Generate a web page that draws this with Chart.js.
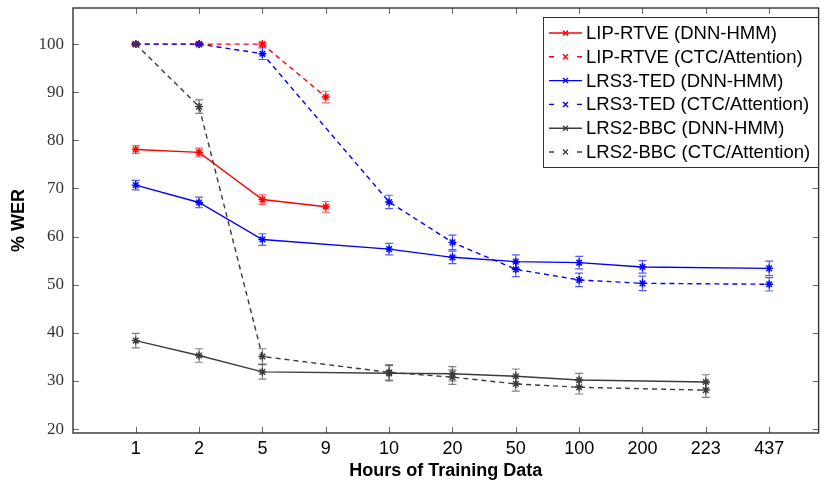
<!DOCTYPE html>
<html>
<head>
<meta charset="utf-8">
<script src="https://cdn.jsdelivr.net/npm/chart.js@4"></script>
<style>
  html, body { margin: 0; padding: 0; background: #fff; }
  #wrap { width: 824px; height: 483px; position: relative; }
</style>
</head>
<body>
<div id="wrap"><canvas id="werChart" width="824" height="483"></canvas></div>
<script>
// x categories (equally spaced)
const HOURS = ['1', '2', '5', '9', '10', '20', '50', '100', '200', '223', '437']
const Y_TICKS = [20, 30, 40, 50, 60, 70, 80, 90, 100]

const LIP_DNN = [78.1, 77.5, 67.7, 66.2, null, null, null, null, null, null, null]
const LIP_DNN_ERR = [0.8, 0.9, 1.0, 1.1, null, null, null, null, null, null, null]
const LIP_CTC = [100, 100, 100, 89.0, null, null, null, null, null, null, null]
const LIP_CTC_ERR = [0.3, 0.3, 0.3, 1.2, null, null, null, null, null, null, null]

const LRS3_DNN = [70.7, 67.1, 59.4, null, 57.4, 55.7, 54.8, 54.6, 53.7, null, 53.4]
const LRS3_DNN_ERR = [1.0, 1.1, 1.2, null, 1.2, 1.3, 1.4, 1.3, 1.3, null, 1.5]
const LRS3_CTC = [100, 100, 98.0, null, 67.2, 58.8, 53.2, 51.0, 50.3, null, 50.1]
const LRS3_CTC_ERR = [0.2, 0.2, 1.2, null, 1.4, 1.5, 1.5, 1.4, 1.5, null, 1.4]

const LRS2_DNN = [38.4, 35.3, 31.9, null, 31.6, 31.5, 31.0, 30.2, null, 29.8, null]
const LRS2_DNN_ERR = [1.5, 1.4, 1.5, null, 1.6, 1.5, 1.5, 1.4, null, 1.5, null]
const LRS2_CTC = [100, 87.0, 35.1, null, 31.8, 30.8, 29.4, 28.7, null, 28.1, null]
const LRS2_CTC_ERR = [0.2, 1.4, 1.6, null, 1.6, 1.5, 1.5, 1.4, null, 1.5, null]

const RED = '#ff0000'
const BLUE = '#0000ff'
const GREY = '#3c3c3c'

function toPoints(values, errs) {
    const pts = []
    values.forEach((v, i) => {
        if (v !== null) pts.push({ x: i, y: v, err: errs[i] })
    })
    return pts
}

let setCount = 0
function makeSet(label, values, errs, color, barColor, dashed) {
    setCount++
    return {
        label: label,
        data: toPoints(values, errs),
        order: -setCount, // later series on top, like pgfplots
        borderColor: color,
        backgroundColor: color,
        barColor: barColor,
        borderWidth: 1.4,
        borderDash: dashed ? [5, 4] : [],
        pointStyle: 'star',
        pointRadius: 4,
        pointBorderWidth: 1.4,
        pointBorderColor: color,
        tension: 0,
        fill: false
    }
}

const datasets = [
    makeSet('LIP-RTVE (DNN-HMM)', LIP_DNN, LIP_DNN_ERR, RED, 'rgba(255,0,0,0.6)', false),
    makeSet('LIP-RTVE (CTC/Attention)', LIP_CTC, LIP_CTC_ERR, RED, 'rgba(255,0,0,0.6)', true),
    makeSet('LRS3-TED (DNN-HMM)', LRS3_DNN, LRS3_DNN_ERR, BLUE, 'rgba(0,0,255,0.65)', false),
    makeSet('LRS3-TED (CTC/Attention)', LRS3_CTC, LRS3_CTC_ERR, BLUE, 'rgba(0,0,255,0.65)', true),
    makeSet('LRS2-BBC (DNN-HMM)', LRS2_DNN, LRS2_DNN_ERR, GREY, 'rgba(60,60,60,0.65)', false),
    makeSet('LRS2-BBC (CTC/Attention)', LRS2_CTC, LRS2_CTC_ERR, GREY, 'rgba(60,60,60,0.65)', true)
]

// error bars, drawn through the scales
const errorBars = {
    id: 'errorBars',
    afterDatasetsDraw(chart) {
        const ctx = chart.ctx
        const xs = chart.scales.x
        const ys = chart.scales.y
        ctx.save()
        chart.data.datasets.forEach(ds => {
            ctx.strokeStyle = ds.barColor
            ctx.lineWidth = 1.2
            ctx.setLineDash([])
            ds.data.forEach(p => {
                if (p.err == null) return
                const px = xs.getPixelForValue(p.x)
                const top = ys.getPixelForValue(p.y + p.err)
                const bot = ys.getPixelForValue(p.y - p.err)
                ctx.beginPath()
                ctx.moveTo(px, top); ctx.lineTo(px, bot)
                ctx.moveTo(px - 4, top); ctx.lineTo(px + 4, top)
                ctx.moveTo(px - 4, bot); ctx.lineTo(px + 4, bot)
                ctx.stroke()
            })
        })
        ctx.restore()
    }
}

// frame with inward ticks, pgfplots style
const frame = {
    id: 'frame',
    afterDraw(chart) {
        const ctx = chart.ctx
        const a = chart.chartArea
        const xs = chart.scales.x
        const ys = chart.scales.y
        ctx.save()
        ctx.strokeStyle = '#6a6a6a'
        ctx.lineWidth = 1
        ctx.beginPath()
        HOURS.forEach((h, i) => {
            const px = Math.round(xs.getPixelForValue(i)) + 0.5
            ctx.moveTo(px, a.top); ctx.lineTo(px, a.top + 6)
            ctx.moveTo(px, a.bottom); ctx.lineTo(px, a.bottom - 6)
        })
        Y_TICKS.forEach(v => {
            const py = Math.round(ys.getPixelForValue(v)) + 0.5
            ctx.moveTo(a.left, py); ctx.lineTo(a.left + 6, py)
            ctx.moveTo(a.right, py); ctx.lineTo(a.right - 6, py)
        })
        ctx.stroke()
        ctx.strokeStyle = '#333'
        ctx.lineWidth = 1.4
        ctx.strokeRect(a.left, a.top, a.right - a.left, a.bottom - a.top)
        ctx.restore()
    }
}

// legend box inside the plot, top right
const boxLegend = {
    id: 'boxLegend',
    afterDraw(chart) {
        const ctx = chart.ctx
        const left = 543, top = 17, w = 275, h = 150
        ctx.save()
        ctx.fillStyle = '#fff'
        ctx.fillRect(left, top, w, h)
        ctx.strokeStyle = '#333'
        ctx.lineWidth = 1
        ctx.strokeRect(left + 0.5, top + 0.5, w, h)
        ctx.font = '18.5px "Liberation Sans", Arial, sans-serif'
        ctx.textBaseline = 'middle'
        chart.data.datasets.forEach((ds, i) => {
            const y = top + 16 + i * 23.8
            ctx.strokeStyle = ds.borderColor
            ctx.lineWidth = 1.4
            ctx.beginPath()
            if (ds.borderDash.length) {
                ctx.moveTo(549, y); ctx.lineTo(554, y)
                ctx.moveTo(577, y); ctx.lineTo(582, y)
            } else {
                ctx.moveTo(549, y); ctx.lineTo(582, y)
            }
            ctx.stroke()
            ctx.beginPath()
            ctx.moveTo(563, y - 2.5); ctx.lineTo(568, y + 2.5)
            ctx.moveTo(563, y + 2.5); ctx.lineTo(568, y - 2.5)
            ctx.stroke()
            ctx.fillStyle = '#000'
            ctx.fillText(ds.label, 586, y + 1)
        })
        ctx.restore()
    }
}

const ctx = document.querySelector('#werChart').getContext('2d')
const werChart = new Chart(ctx, {
    type: 'line',
    data: { datasets: datasets },
    plugins: [errorBars, frame, boxLegend],
    options: {
        responsive: false,
        animation: false,
        devicePixelRatio: 1,
        layout: { padding: { top: 8, right: 1, left: 0, bottom: 0 } },
        plugins: {
            legend: { display: false },
            tooltip: { enabled: false }
        },
        scales: {
            x: {
                type: 'linear',
                min: -0.99,
                max: 10.78,
                afterBuildTicks: scale => {
                    scale.ticks = HOURS.map((h, i) => ({ value: i }))
                },
                afterFit: scale => {
                    scale.height = 50
                    scale.paddingLeft = 0
                    scale.paddingRight = 0
                },
                grid: { display: false, drawTicks: false },
                border: { display: false },
                ticks: {
                    padding: 5,
                    color: '#000',
                    font: { family: '"Liberation Sans", Arial, sans-serif', size: 18 },
                    callback: value => HOURS[value],
                    maxRotation: 0,
                    autoSkip: false
                },
                title: {
                    display: true,
                    text: 'Hours of Training Data',
                    color: '#000',
                    font: { family: '"Liberation Sans", Arial, sans-serif', size: 18, weight: 'bold' },
                    padding: { top: 0, bottom: 1 }
                }
            },
            y: {
                min: 19.2,
                max: 107.5,
                afterBuildTicks: scale => {
                    scale.ticks = Y_TICKS.map(v => ({ value: v }))
                },
                afterFit: scale => {
                    scale.width = 73
                    scale.paddingTop = 0
                    scale.paddingBottom = 0
                },
                grid: { display: false, drawTicks: false },
                border: { display: false },
                ticks: {
                    padding: 9,
                    color: '#333',
                    font: { family: '"Liberation Serif", "Times New Roman", serif', size: 17 }
                },
                title: {
                    display: true,
                    text: '% WER',
                    color: '#000',
                    font: { family: '"Liberation Sans", Arial, sans-serif', size: 18, weight: 'bold' },
                    padding: { top: 8, bottom: 0 }
                }
            }
        }
    }
})
</script>
</body>
</html>
